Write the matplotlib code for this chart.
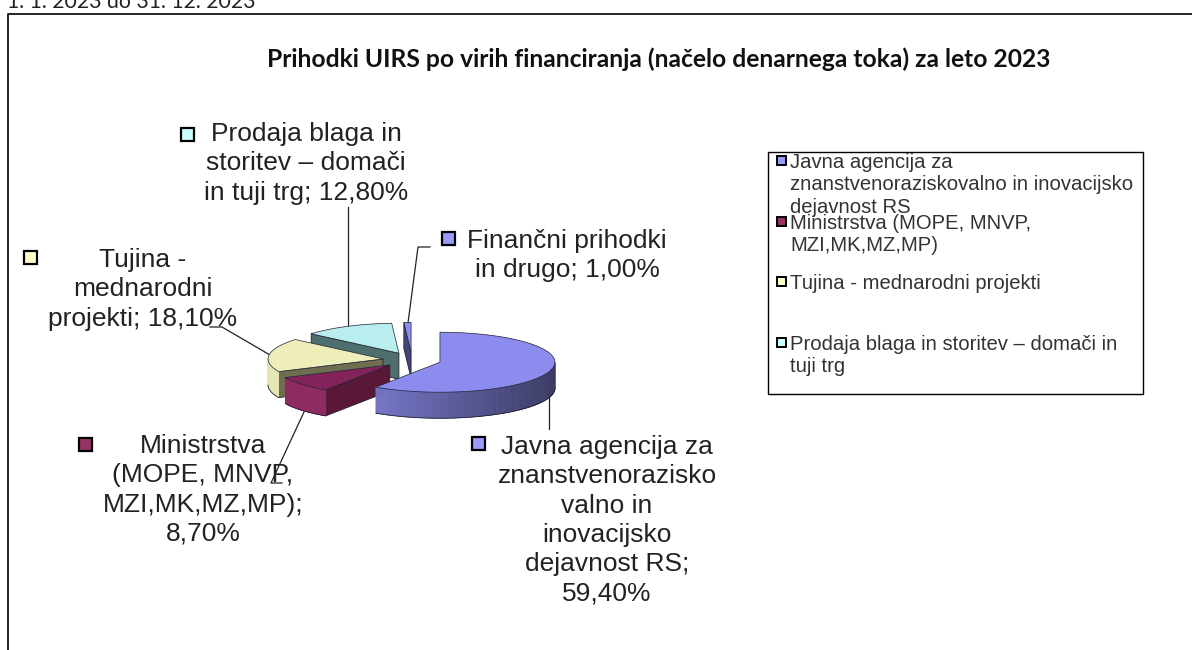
import numpy as np
import matplotlib
matplotlib.use('Agg')
import matplotlib.pyplot as plt
from matplotlib.patches import Polygon, Rectangle

# data
shares = [59.4, 8.7, 18.1, 12.8, 1.0]
value_labels = ['59,40%', '8,70%', '18,10%', '12,80%', '1,00%']
top_colors = ['#8c8cee', '#82245a', '#eeeebb', '#b8eeee', '#8c8cee']
rim_colors = ['#8c8cee', '#8e2c62', '#e6e6b4', '#b0e4e4', '#6c6cc0']
face_colors = ['#44447a', '#5a1838', '#6e6e50', '#4f6e6e', '#44447a']
swatch_colors = ['#9999ff', '#993366', '#ffffcc', '#ccffff', '#9999ff']
legend_names = ['Javna agencija za\nznanstvenoraziskovalno in inovacijsko\ndejavnost RS',
                'Ministrstva (MOPE, MNVP,\nMZI,MK,MZ,MP)',
                'Tujina - mednarodni projekti',
                'Prodaja blaga in storitev \u2013 domači in\ntuji trg']
pie_labels = ['Javna agencija za\nznanstvenorazisko\nvalno in\ninovacijsko\ndejavnost RS;\n',
              'Ministrstva\n(MOPE, MNVP,\nMZI,MK,MZ,MP);\n',
              'Tujina -\nmednarodni\nprojekti; ',
              'Prodaja blaga in\nstoritev \u2013 domači\nin tuji trg; ',
              'Finančni prihodki\nin drugo; ']
title = 'Prihodki UIRS po virih financiranja (načelo denarnega toka) za leto 2023'
header = '1. 1. 2023 do 31. 12. 2023'

cx, cy = 412, 360
rx, ry = 115, 30
depth = 26
explode = 0.254

fig = plt.figure(figsize=(11.92, 6.5), dpi=100)
ax = fig.add_axes([0, 0, 1, 1])
ax.set_xlim(0, 1192)
ax.set_ylim(650, 0)
ax.axis('off')


def rim_point(x0, y0, a):
    return x0 + rx * np.sin(a), y0 - ry * np.cos(a)


def shade(color, a):
    # light on the left of the pie, dark on the right
    k = 0.95 - 0.53 * (np.sin(a) + 1) / 2
    rgb = np.array(matplotlib.colors.to_rgb(color))
    return tuple(rgb * k)


angles = np.cumsum([0] + shares) / 100 * 2 * np.pi
# back to front
for rank, i in enumerate([4, 3, 2, 1, 0]):
    a0, a1 = angles[i], angles[i + 1]
    mid = (a0 + a1) / 2
    x0 = cx + explode * rx * np.sin(mid)
    y0 = cy - explode * ry * np.cos(mid)
    edge = '#222233'
    z = 2 + rank
    # cut face, only if it looks at the viewer
    if np.sin(a0) < -1e-6:
        px, py = rim_point(x0, y0, a0)
        ax.add_patch(Polygon([(x0, y0), (px, py), (px, py + depth), (x0, y0 + depth)],
                             fc=face_colors[i], ec=edge, lw=0.6, zorder=z))
    # outer rim, only the part facing the viewer
    t = np.linspace(a0, a1, 160)
    for a, b in zip(t[:-1], t[1:]):
        if np.cos((a + b) / 2) < 0:
            p, q = rim_point(x0, y0, a), rim_point(x0, y0, b)
            c = shade(rim_colors[i], (a + b) / 2) if i == 0 else rim_colors[i]
            ax.add_patch(Polygon([p, q, (q[0], q[1] + depth), (p[0], p[1] + depth)],
                                 fc=c, ec=c, lw=0.5, zorder=z))
    front = t[np.cos(t) < 0]
    if len(front):
        fx, fy = rim_point(x0, y0, front)
        ax.plot(fx, fy + depth, color=edge, lw=0.6, zorder=z)
    # top
    tx, ty = rim_point(x0, y0, t)
    ax.add_patch(Polygon(np.r_[[(x0, y0)], np.c_[tx, ty]], fc=top_colors[i], ec=edge, lw=0.5, zorder=z))

# frame
ax.plot([7.5, 7.5, 1192], [650, 13.5, 13.5], color='black', lw=1.2, solid_capstyle='butt')
ax.text(7, 8, header, fontsize=15.3, family='Lato', va='baseline', ha='left', clip_on=False, color='#222222')
ax.text(659, 59, title, fontsize=17.7, family='Lato', weight='bold', ha='center', va='center', color='#111111')

# leader lines
leaders = [([549, 549], [392, 429]), ([304, 271, 282], [412, 483, 483]), ([210, 222, 270], [327, 327, 355]),
           ([348, 348], [328, 207]), ([408, 418, 430], [323, 247, 247])]
for xs, ys in leaders:
    ax.plot(xs, ys, color='#222222', lw=0.9, zorder=1)

# data labels
label_pos = [(607, 435), (203, 434), (143, 248), (306, 122), (567, 229)]
swatch_pos = [(478, 443), (85, 444), (30, 257), (187, 134), (448, 238)]
for i in range(5):
    ax.text(label_pos[i][0], label_pos[i][1], pie_labels[i] + value_labels[i], fontsize=19, family='Liberation Sans',
            ha='center', va='top', linespacing=1.28, color='#222222', zorder=20)
    ax.add_patch(Rectangle((swatch_pos[i][0] - 6.5, swatch_pos[i][1] - 6.5), 13, 13, fc=swatch_colors[i], ec='black', lw=1.6, zorder=20))

# legend
ax.add_patch(Rectangle((767.5, 152), 375.5, 242, fc='white', ec='black', lw=1))
legend_y = [160, 221, 281, 342]
for i in range(4):
    ax.add_patch(Rectangle((776.5, legend_y[i] - 4.5), 9, 9, fc=swatch_colors[i], ec='black', lw=1.4, zorder=5))
    ax.text(790, legend_y[i] - 7, legend_names[i], fontsize=14.6, family='Liberation Sans', color='#333333',
            ha='left', va='top', linespacing=1.22, zorder=6)

fig.savefig('out.png', dpi=100)
